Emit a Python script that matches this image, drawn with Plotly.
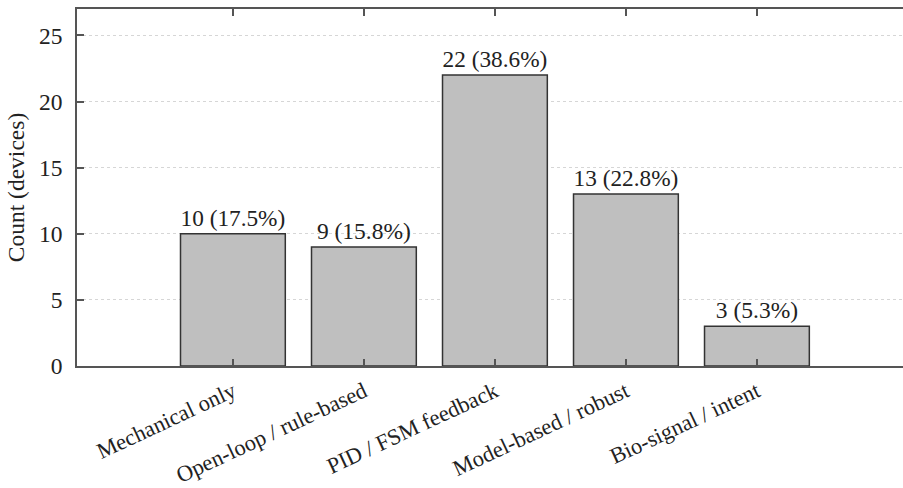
import plotly.graph_objects as go

# Control strategy categories and device counts
categories = [
    "Mechanical only",
    "Open-loop / rule-based",
    "PID / FSM feedback",
    "Model-based / robust",
    "Bio-signal / intent",
]
counts = [10, 9, 22, 13, 3]
positions = [1, 2, 3, 4, 5]
y_ticks = [0, 5, 10, 15, 20, 25]

total = sum(counts)
labels = [f"{c} ({100 * c / total:.1f}%)" for c in counts]

FONT = "Liberation Serif"
TEXT_COLOR = "#222222"
AXIS_COLOR = "#555555"
SIZE = 23.5

fig = go.Figure(
    go.Bar(
        x=positions,
        y=counts,
        width=0.8,
        text=labels,
        textposition="outside",
        cliponaxis=False,
        textfont=dict(family=FONT, size=SIZE, color=TEXT_COLOR),
        marker=dict(color="#bfbfbf", line=dict(color="#333333", width=1.5)),
        showlegend=False,
    )
)

fig.update_layout(
    width=903,
    height=488,
    margin=dict(l=77, r=0, t=9, b=122),
    paper_bgcolor="white",
    plot_bgcolor="white",
    font=dict(family=FONT, size=SIZE, color=TEXT_COLOR),
    xaxis=dict(
        range=[-0.19, 6.115],
        tickvals=positions,
        ticktext=categories,
        tickangle=-25,
        ticks="inside",
        ticklen=7,
        tickwidth=1.5,
        tickcolor=AXIS_COLOR,
        showline=True,
        linecolor=AXIS_COLOR,
        linewidth=1.5,
        mirror="ticks",
        showgrid=False,
        zeroline=False,
        automargin=False,
        ticklabelstandoff=2,
        tickfont=dict(family=FONT, size=22.5, color=TEXT_COLOR),
    ),
    yaxis=dict(
        range=[0, 27],
        tickvals=y_ticks,
        ticks="inside",
        ticklen=7,
        tickwidth=1.5,
        tickcolor=AXIS_COLOR,
        showline=True,
        linecolor=AXIS_COLOR,
        linewidth=1.5,
        mirror=False,
        showgrid=True,
        gridcolor="#d6d6d6",
        griddash="dot",
        gridwidth=1.2,
        zeroline=False,
        automargin=False,
        ticklabelstandoff=8,
        title=dict(text="Count (devices)", standoff=8,
                   font=dict(family=FONT, size=SIZE, color=TEXT_COLOR)),
        tickfont=dict(family=FONT, size=SIZE, color=TEXT_COLOR),
    ),
)

fig.write_html("out.html")
